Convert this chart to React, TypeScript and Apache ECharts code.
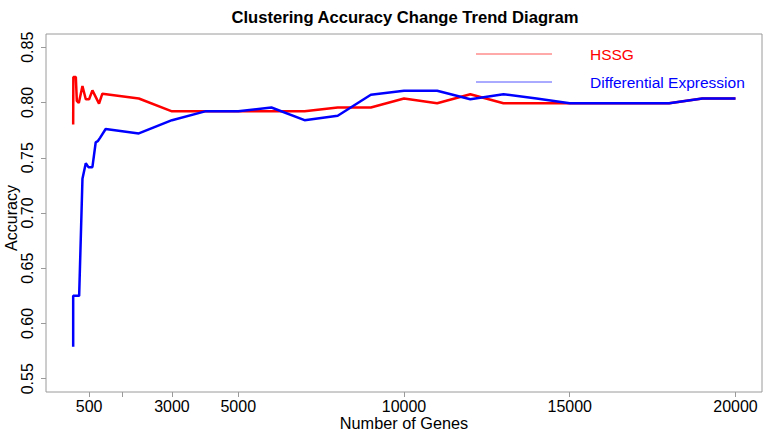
import React, { useEffect, useRef } from "react";
import * as echarts from "echarts";

const titleText = "Clustering Accuracy Change Trend Diagram";
const xTitle = "Number of Genes";
const yTitle = "Accuracy";
const seriesNames = ["HSSG", "Differential Expression"];
const seriesColors = ["#ff0000", "#0000ff"];

const hssgGenes = [20, 25, 100, 130, 190, 300, 400, 500, 600, 800, 900, 2000, 3000, 4000, 5000, 6000, 7000, 8000, 9000, 10000, 11000, 12000, 13000, 14000, 15000, 16000, 17000, 18000, 19000, 20000];
const hssgAcc = [0.78, 0.823, 0.823, 0.8015, 0.7996, 0.815, 0.803, 0.803, 0.811, 0.799, 0.808, 0.8036, 0.792, 0.792, 0.792, 0.792, 0.792, 0.7955, 0.7955, 0.8036, 0.7994, 0.8075, 0.7994, 0.7994, 0.7994, 0.7994, 0.7994, 0.7994, 0.8036, 0.8036];

const deGenes = [20, 20, 200, 300, 400, 480, 600, 700, 760, 830, 1000, 2000, 3000, 4000, 5000, 6000, 7000, 8000, 9000, 10000, 11000, 12000, 13000, 14000, 15000, 16000, 17000, 18000, 19000, 20000];
const deAcc = [0.579, 0.625, 0.625, 0.731, 0.745, 0.7415, 0.7415, 0.764, 0.765, 0.768, 0.776, 0.772, 0.784, 0.792, 0.792, 0.7955, 0.784, 0.788, 0.807, 0.8106, 0.8106, 0.803, 0.8075, 0.8036, 0.7994, 0.7994, 0.7994, 0.7994, 0.8036, 0.8036];

const xTicks = [500, 1500, 3000, 5000, 10000, 15000, 20000];
const xTickLabels = [500, 3000, 5000, 10000, 15000, 20000];
const yTicks = [0.55, 0.6, 0.65, 0.7, 0.75, 0.8, 0.85];

const FONT = "'Liberation Sans', Arial, sans-serif";
const AXIS_GRAY = "#9a9a9a";

export default function App() {
  const ref = useRef<HTMLDivElement>(null);
  useEffect(() => {
    if (!ref.current) return;
    const chart = echarts.init(ref.current, undefined, { renderer: "svg" });
    const hssgData = hssgGenes.map((g, i) => [g, hssgAcc[i]]);
    const deData = deGenes.map((g, i) => [g, deAcc[i]]);
    chart.setOption({
      animation: false,
      backgroundColor: "#ffffff",
      textStyle: { fontFamily: FONT },
      grid: {
        left: 46,
        right: 11,
        top: 34,
        bottom: 44,
        show: true,
        borderColor: AXIS_GRAY,
        borderWidth: 1,
        backgroundColor: "transparent",
      },
      xAxis: {
        type: "value",
        min: -800,
        max: 20800,
        axisLine: { show: false, onZero: false },
        splitLine: { show: false },
        axisTick: {
          show: true,
          length: 5,
          inside: false,
          customValues: xTicks,
          lineStyle: { color: AXIS_GRAY },
        },
        axisLabel: {
          customValues: xTickLabels,
          color: "#000",
          fontSize: 16,
          fontFamily: FONT,
          margin: 6,
          formatter: (v: number) => String(v),
        },
      },
      yAxis: {
        type: "value",
        min: 0.538,
        max: 0.862,
        axisLine: { show: false, onZero: false },
        splitLine: { show: false },
        axisTick: {
          show: true,
          length: 5,
          customValues: yTicks,
          lineStyle: { color: AXIS_GRAY },
        },
        axisLabel: {
          customValues: yTicks,
          rotate: 90,
          color: "#000",
          fontSize: 16,
          fontFamily: FONT,
          margin: 11,
          formatter: (v: number) => v.toFixed(2),
        },
      },
      series: [
        {
          name: seriesNames[0],
          type: "line",
          data: hssgData,
          showSymbol: false,
          symbol: "none",
          lineStyle: { color: seriesColors[0], width: 2.5 },
          z: 2,
        },
        {
          name: seriesNames[1],
          type: "line",
          data: deData,
          showSymbol: false,
          symbol: "none",
          lineStyle: { color: seriesColors[1], width: 2.5 },
          z: 3,
        },
      ],
      graphic: [
        {
          type: "text",
          x: 405,
          y: 17,
          style: {
            text: titleText,
            fontFamily: FONT,
            fontWeight: "bold",
            fontSize: 16.6,
            fill: "#000",
            textAlign: "center",
            textVerticalAlign: "middle",
          },
        },
        {
          type: "text",
          x: 404,
          y: 423,
          style: {
            text: xTitle,
            fontFamily: FONT,
            fontSize: 16.3,
            fill: "#000",
            textAlign: "center",
            textVerticalAlign: "middle",
          },
        },
        {
          type: "text",
          x: 11,
          y: 218,
          rotation: Math.PI / 2,
          style: {
            text: yTitle,
            fontFamily: FONT,
            fontSize: 16,
            fill: "#000",
            textAlign: "center",
            textVerticalAlign: "middle",
          },
        },
        {
          type: "line",
          shape: { x1: 476, y1: 54, x2: 552, y2: 54 },
          style: { stroke: "#ff5555", lineWidth: 1 },
        },
        {
          type: "text",
          x: 590,
          y: 54,
          style: {
            text: seriesNames[0],
            fontFamily: FONT,
            fontSize: 15.5,
            fill: seriesColors[0],
            textAlign: "left",
            textVerticalAlign: "middle",
          },
        },
        {
          type: "line",
          shape: { x1: 476, y1: 82, x2: 552, y2: 82 },
          style: { stroke: "#5555ff", lineWidth: 1 },
        },
        {
          type: "text",
          x: 590,
          y: 82,
          style: {
            text: seriesNames[1],
            fontFamily: FONT,
            fontSize: 15.5,
            fill: seriesColors[1],
            textAlign: "left",
            textVerticalAlign: "middle",
          },
        },
      ],
    });
    return () => chart.dispose();
  }, []);
  return (
    <div
      ref={ref}
      style={{ position: "fixed", left: 0, top: 0, width: 773, height: 436, background: "#fff" }}
    />
  );
}
